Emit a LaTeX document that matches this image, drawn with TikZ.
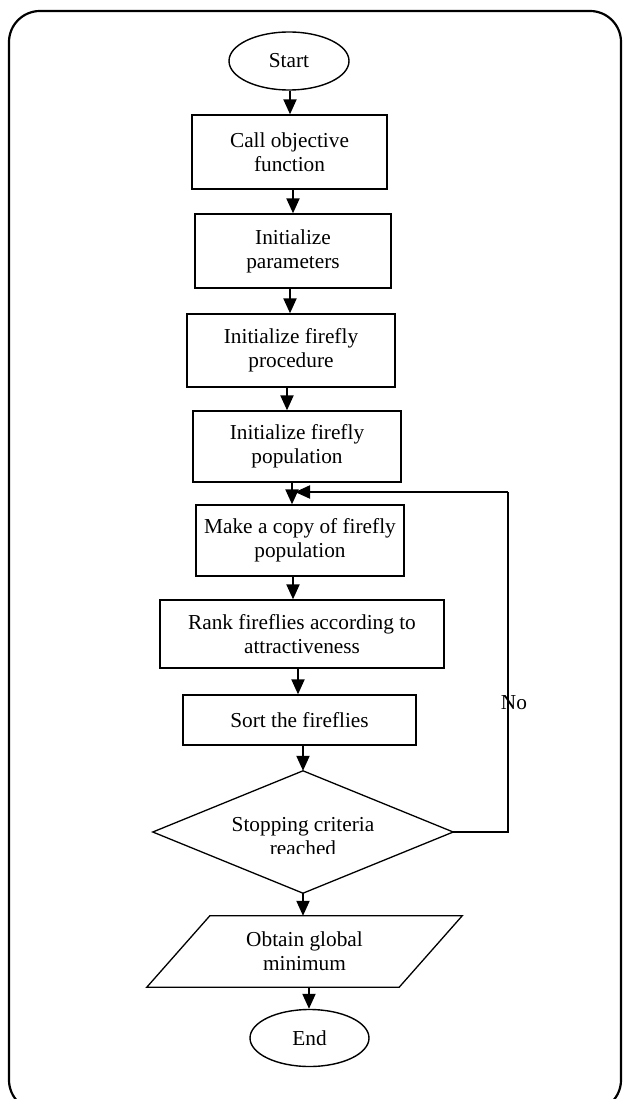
\documentclass[tikz,border=0pt]{standalone}
\usepackage{fontspec}
\setmainfont{Liberation Serif}
\usetikzlibrary{arrows.meta,calc,shapes.geometric}
\begin{document}
\begin{tikzpicture}[x=1pt,y=-1pt,
  txt/.style={font=\fontsize{21.3}{24}\selectfont},
  box/.style={draw, line width=1.3pt, align=center, inner sep=0pt, txt},
  term/.style={draw, ellipse, line width=1.4pt, inner sep=0pt, txt},
  ghost/.style={inner sep=0pt, align=center, txt},
  arr/.style={line width=2pt, -{Triangle[width=13pt,length=15pt]}},
  loopline/.style={line width=2pt},
  outline/.style={line width=1.3pt, line join=miter}]
\clip (0,0) rectangle (625,1099);
\draw[line width=2.2pt, rounded corners=31pt] (9,11) rectangle (621,1111);

\node[term, minimum width=120pt, minimum height=58pt] (start) at (289,61) {Start};
\node[box, minimum width=195pt, minimum height=74pt] (b1) at (289.5,152) {Call objective\\function};
\node[box, minimum width=196pt, minimum height=74pt] (b2) at (293,251) {Initialize\\parameters};
\node[box, minimum width=208pt, minimum height=73pt] (b3) at (291,350.5) {Initialize firefly\\procedure};
\node[box, minimum width=208pt, minimum height=71pt] (b4) at (297,446.5) {Initialize firefly\\population};
\node[box, minimum width=208pt, minimum height=71pt] (b5) at (300,540.5) {Make a copy of firefly\\population};
\node[box, minimum width=284pt, minimum height=68pt] (b6) at (302,634) {Rank fireflies according to\\attractiveness};
\node[box, minimum width=233pt, minimum height=50pt] (b7) at (299.5,720) {Sort the fireflies};

\node[ghost, minimum width=300pt, minimum height=122pt] (d) at (303,832) {};
\draw[outline] (d.north) -- (d.east) -- (d.south) -- (d.west) -- cycle;
\begin{scope}
  \clip (160,800) rectangle (450,853.5);
  \node[ghost] (dtext) at (303,836.5) {Stopping criteria\\reached};
\end{scope}

\node[ghost, minimum width=252pt, minimum height=71pt] (p) at (304.5,951.5) {Obtain global\\minimum};
\draw[outline] ($(p.south west)+(-31.5,0)$) -- ($(p.north west)+(31.5,0)$) -- ($(p.north east)+(31.5,0)$) -- ($(p.south east)+(-31.5,0)$) -- cycle;

\node[term, minimum width=119pt, minimum height=57pt] (end) at (309.5,1038) {End};

\draw[arr] (start.south -| 290,0) -- (b1.north -| 290,0);
\draw[arr] (b1.south -| 293,0) -- (b2.north -| 293,0);
\draw[arr] (b2.south -| 290,0) -- (b3.north -| 290,0);
\draw[arr] (b3.south -| 287,0) -- (b4.north -| 287,0);
\draw[arr] (b4.south -| 292,0) -- (b5.north -| 292,0);
\draw[arr] (b5.south -| 293,0) -- (b6.north -| 293,0);
\draw[arr] (b6.south -| 298,0) -- (b7.north -| 298,0);
\draw[arr] (b7.south -| 303,0) -- (d.north);
\draw[arr] (d.south) -- (p.north -| 303,0);
\draw[arr] (p.south -| 309,0) -- (end.north -| 309,0);

\coordinate (lcorner) at (508,492);
\coordinate (ltip) at (295,492);
\draw[loopline] (d.east) -| (lcorner);
\draw[arr] (lcorner) -- (ltip);
\node[txt, inner sep=0pt] (no) at (514,703) {No};
\end{tikzpicture}
\end{document}
